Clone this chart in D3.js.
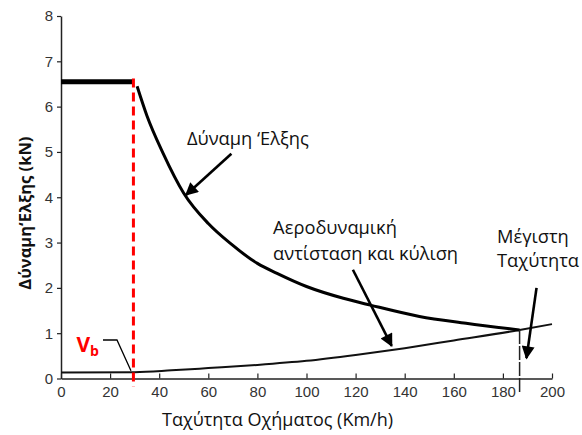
<!DOCTYPE html>
<html>
<head>
<meta charset="utf-8">
<script src="https://cdn.jsdelivr.net/npm/d3@7"></script>
<style>
  body { margin: 0; background: #fff; }
  text { font-family: "Open Sans", sans-serif; }
  .tick text { font-family: "Liberation Sans", Arial, sans-serif; font-size: 15px; fill: #333; }
</style>
</head>
<body>
<div id="chart"></div>
<script>
// values
const xTicks = [0, 20, 40, 60, 80, 100, 120, 140, 160, 180, 200];
const yTicks = [0, 1, 2, 3, 4, 5, 6, 7, 8];

const flatSpeed = [0, 29.5];
const flatForce = [6.55, 6.55];

const tractionSpeed = [31, 35, 41.6, 50, 60, 69, 80, 88, 100, 115, 126, 146, 165, 186.8];
const tractionForce = [6.45, 5.8, 4.97, 4.09, 3.42, 2.98, 2.54, 2.32, 2.03, 1.77, 1.62, 1.37, 1.22, 1.07];

const resistSpeed = [0, 30, 45, 60, 80, 100, 120, 140, 160, 186.8, 200];
const resistForce = [0.13, 0.14, 0.18, 0.23, 0.3, 0.39, 0.52, 0.67, 0.84, 1.07, 1.2];

const baseSpeed = 29.5;   // V_b
const maxSpeed = 186.8;

const W = 582, H = 435;
const svg = d3.select("#chart").append("svg")
    .attr("width", W).attr("height", H);

const x = d3.scaleLinear().domain([0, 200]).range([61, 552]);
const y = d3.scaleLinear().domain([0, 8]).range([378.5, 16]);

// arrow head
svg.append("defs").append("marker")
    .attr("id", "head")
    .attr("viewBox", "0 0 10 10")
    .attr("refX", 9).attr("refY", 5)
    .attr("markerWidth", 5.8).attr("markerHeight", 5)
    .attr("orient", "auto")
    .append("path").attr("d", "M0,0 L10,5 L0,10 Z").attr("fill", "#000");

// axes
const xAxis = svg.append("g")
    .attr("transform", `translate(0,${y(0)})`)
    .call(d3.axisBottom(x).tickValues(xTicks).tickSizeInner(-5).tickSizeOuter(0).tickPadding(8));
const yAxis = svg.append("g")
    .attr("transform", `translate(${x(0)},0)`)
    .call(d3.axisLeft(y).tickValues(yTicks).tickSizeInner(4).tickSizeOuter(0).tickPadding(4));
[xAxis, yAxis].forEach(a => {
    a.select(".domain").attr("stroke", "#222").attr("stroke-width", 1.5);
    a.selectAll(".tick line").attr("stroke", "#222").attr("stroke-width", 1.2);
});

const line = d3.line()
    .x(d => x(d[0])).y(d => y(d[1]))
    .curve(d3.curveMonotoneX);

// resistance curve
svg.append("path")
    .datum(d3.zip(resistSpeed, resistForce))
    .attr("d", line)
    .attr("fill", "none").attr("stroke", "#111").attr("stroke-width", 2);

// traction: flat part
svg.append("path")
    .datum(d3.zip(flatSpeed, flatForce))
    .attr("d", line)
    .attr("fill", "none").attr("stroke", "#000").attr("stroke-width", 5);

// traction: constant power part
svg.append("path")
    .datum(d3.zip(tractionSpeed, tractionForce))
    .attr("d", line)
    .attr("fill", "none").attr("stroke", "#000").attr("stroke-width", 3);

// V_b dashed line
svg.append("line")
    .attr("x1", x(baseSpeed)).attr("x2", x(baseSpeed))
    .attr("y1", y(6.62)).attr("y2", y(-0.18))
    .attr("stroke", "#ff0000").attr("stroke-width", 3)
    .attr("stroke-dasharray", "9,5");

// max speed line
svg.append("line")
    .attr("x1", x(maxSpeed)).attr("x2", x(maxSpeed))
    .attr("y1", y(1.07)).attr("y2", y(-0.32))
    .attr("stroke", "#222").attr("stroke-width", 1.5)
    .attr("stroke-dasharray", "14,2");

// V_b label
const vb = svg.append("text")
    .attr("x", x(6.3)).attr("y", y(0.59))
    .attr("fill", "#ff0000").attr("font-weight", "bold").attr("font-size", 21);
vb.append("tspan").text("V");
vb.append("tspan").attr("font-size", 14).attr("dy", 4).text("b");

svg.append("path")
    .datum([[17.1, 0.85], [22.8, 0.85], [28.5, 0.17]])
    .attr("d", d3.line().x(d => x(d[0])).y(d => y(d[1])))
    .attr("fill", "none").attr("stroke", "#000").attr("stroke-width", 1.3);

// annotations
const arrows = [
    [[69.4, 4.96], [50.9, 4.05]],
    [[118.9, 2.4], [134.7, 0.72]],
    [[193.7, 2.0], [189.6, 0.45]]
];
svg.selectAll(".arrow")
    .data(arrows)
    .join("line")
    .attr("class", "arrow")
    .attr("x1", d => x(d[0][0])).attr("y1", d => y(d[0][1]))
    .attr("x2", d => x(d[1][0])).attr("y2", d => y(d[1][1]))
    .attr("stroke", "#000").attr("stroke-width", 2.6)
    .attr("marker-end", "url(#head)");

const labels = [
    { v: 51.3, f: 5.15, t: "Δύναμη ‘Ελξης" },
    { v: 86.4, f: 3.19, t: "Αεροδυναμική" },
    { v: 86.4, f: 2.62, t: "αντίσταση και κύλιση" },
    { v: 177.6, f: 2.99, t: "Μέγιστη" },
    { v: 177.6, f: 2.47, t: "Ταχύτητα" }
];
svg.selectAll(".lab")
    .data(labels)
    .join("text")
    .attr("class", "lab")
    .attr("x", d => x(d.v)).attr("y", d => y(d.f))
    .attr("font-size", 18.3).attr("fill", "#111")
    .text(d => d.t);

// axis titles
svg.append("text")
    .attr("x", 162).attr("y", 426)
    .attr("font-size", 18).attr("fill", "#111")
    .text("Ταχύτητα Οχήματος (Km/h)");

svg.append("text")
    .attr("transform", `translate(31,${y(3.65)}) rotate(-90)`)
    .attr("text-anchor", "middle")
    .attr("font-size", 16.5).attr("font-weight", "bold").attr("fill", "#111")
    .text("Δύναμη‘Ελξης (kN)");
</script>
</body>
</html>
